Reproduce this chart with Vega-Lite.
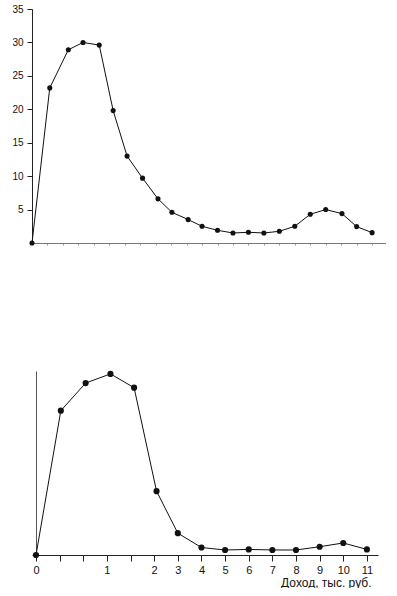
{
  "$schema": "https://vega.github.io/schema/vega-lite/v6.json",
  "padding": {"top": 4, "left": 11, "right": 0, "bottom": 0},
  "spacing": 124,
  "config": {
    "view": {"stroke": null},
    "font": "Liberation Sans",
    "axis": {"grid": false, "domainColor": "#222", "tickColor": "#222", "labelColor": "#111", "titleColor": "#111", "labelFont": "Liberation Sans", "titleFont": "Liberation Sans"}
  },
  "datasets": {
    "top": [
      {"x": 0, "y": 0}, {"x": 1.15, "y": 23.2}, {"x": 2.35, "y": 28.9}, {"x": 3.3, "y": 30.0},
      {"x": 4.35, "y": 29.6}, {"x": 5.25, "y": 19.8}, {"x": 6.15, "y": 13.0}, {"x": 7.15, "y": 9.7},
      {"x": 8.15, "y": 6.6}, {"x": 9.05, "y": 4.6}, {"x": 10.1, "y": 3.5}, {"x": 11, "y": 2.5},
      {"x": 12, "y": 1.9}, {"x": 13, "y": 1.5}, {"x": 14, "y": 1.6}, {"x": 15, "y": 1.5},
      {"x": 16, "y": 1.75}, {"x": 17, "y": 2.5}, {"x": 18, "y": 4.3}, {"x": 19, "y": 5.0},
      {"x": 20.05, "y": 4.4}, {"x": 21, "y": 2.45}, {"x": 22, "y": 1.55}
    ],
    "bottom": [
      {"x": 0, "y": 0}, {"x": 1.05, "y": 25.1}, {"x": 2.1, "y": 29.9}, {"x": 3.15, "y": 31.5},
      {"x": 4.15, "y": 29.1}, {"x": 5.1, "y": 11.1}, {"x": 6, "y": 3.8}, {"x": 7, "y": 1.3},
      {"x": 8, "y": 0.87}, {"x": 9, "y": 0.97}, {"x": 10, "y": 0.87}, {"x": 11, "y": 0.87},
      {"x": 12, "y": 1.44}, {"x": 13, "y": 2.09}, {"x": 14, "y": 0.97}
    ]
  },
  "vconcat": [
    {
      "width": 354,
      "height": 234,
      "data": {"name": "top"},
      "mark": {"type": "line", "color": "#111", "strokeWidth": 1, "point": {"filled": true, "color": "#111", "size": 26}},
      "encoding": {
        "x": {"field": "x", "type": "quantitative", "scale": {"domain": [0, 22.9], "nice": false, "zero": false},
              "axis": {"title": null, "labels": false, "tickSize": 2, "values": [1,2,3,4,5,6,7,8,9,10,11,12,13,14,15,16,17,18,19,20,21,22], "domainColor": "#777", "tickColor": "#999"}},
        "y": {"field": "y", "type": "quantitative", "scale": {"domain": [0, 35], "nice": false},
              "axis": {"title": null, "values": [5,10,15,20,25,30,35], "tickSize": 5, "labelPadding": 4, "labelFontSize": 10}}
      }
    },
    {
      "width": 346,
      "height": 184,
      "data": {"name": "bottom"},
      "mark": {"type": "line", "color": "#111", "strokeWidth": 1, "point": {"filled": true, "color": "#111", "size": 38}},
      "encoding": {
        "x": {"field": "x", "type": "quantitative", "scale": {"domain": [-0.17, 14.47], "nice": false, "zero": false},
              "axis": {"title": "Доход, тыс. руб.", "titleAnchor": "end", "titleAlign": "right", "titleX": 339, "titleFontSize": 12, "titleFontWeight": "normal", "titlePadding": 2,
                       "values": [0,1,2,3,4,5,6,7,8,9,10,11,12,13,14], "tickSize": 6, "labelPadding": 3, "labelFontSize": 11,
                       "labelExpr": "datum.value==0?'0':datum.value==3?'1':datum.value>=5?''+(datum.value-3):''"}},
        "y": {"field": "y", "type": "quantitative", "scale": {"domain": [0, 32], "nice": false},
              "axis": {"title": null, "labels": false, "ticks": false, "offset": -4, "domainColor": "#555"}}
      }
    }
  ]
}
